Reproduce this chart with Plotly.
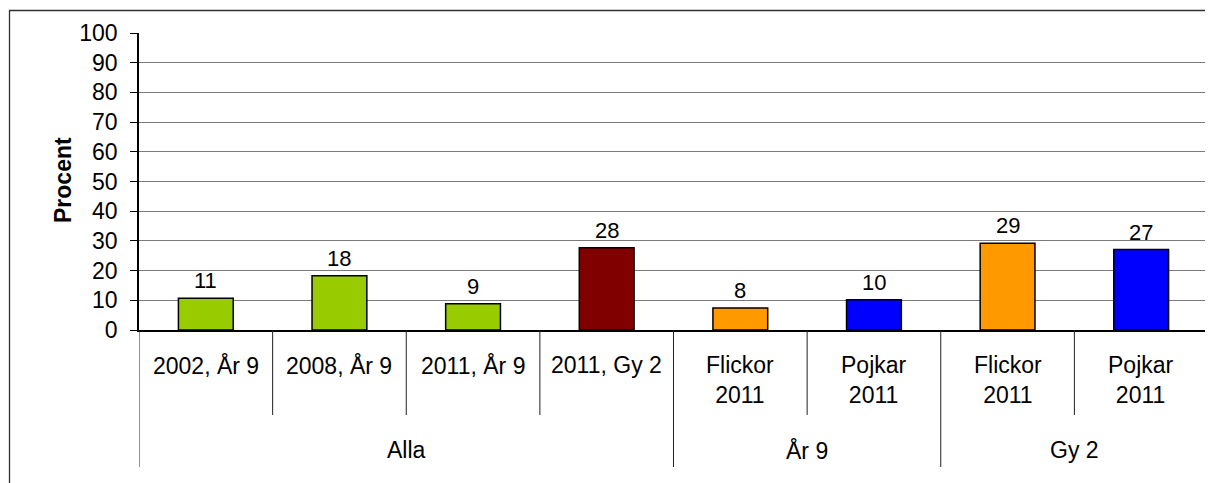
import plotly.graph_objects as go

# ---- data ----
groups = ["Alla", "Alla", "Alla", "Alla", "År 9", "År 9", "Gy 2", "Gy 2"]
categories = ["2002, År 9", "2008, År 9", "2011, År 9", "2011, Gy 2",
              "Flickor<br>2011", "Pojkar<br>2011", "Flickor<br>2011", "Pojkar<br>2011"]
values = [10.7, 18.3, 8.8, 27.7, 7.4, 10.2, 29.2, 27.1]
labels = ["11", "18", "9", "28", "8", "10", "29", "27"]
colors = ["#99CC00", "#99CC00", "#99CC00", "#800000",
          "#FF9900", "#0000FF", "#FF9900", "#0000FF"]
y_ticks = [0, 10, 20, 30, 40, 50, 60, 70, 80, 90, 100]

FONT = "Arial, Liberation Sans, sans-serif"
OFF = 8  # default body margin of the html page (shifts figure right/down)
PAGE_W, PAGE_H = 1213, 483
W, H = PAGE_W - OFF, PAGE_H - OFF
L, R, T, B = 139 - OFF, 5, 33 - OFF, 153
plot_h = H - T - B
plot_w = W - L - R
PLOT_BOTTOM = PAGE_H - B  # page pixel of y=0
PLOT_LEFT = L + OFF


def py(px):
    """page pixel y (from top) -> paper y"""
    return (PLOT_BOTTOM - px) / plot_h


def pxx(px):
    return (px - PLOT_LEFT) / plot_w


xs = list(range(len(categories)))

fig = go.Figure()
fig.add_trace(go.Bar(
    x=xs, y=values, width=0.41,
    marker=dict(color=colors, line=dict(color="black", width=1.5)),
    hoverinfo="skip", showlegend=False,
))

shapes = []
bounds_group = [-0.5]
for i in range(1, len(groups)):
    b = i - 0.5
    if groups[i] != groups[i - 1]:
        bounds_group.append(b)
    else:
        shapes.append(dict(type="line", xref="x", yref="paper", x0=b, x1=b,
                           y0=0, y1=py(415), line=dict(color="#202020", width=1)))
bounds_group.append(len(groups) - 0.5)
for b in bounds_group:
    shapes.append(dict(type="line", xref="x", yref="paper", x0=b, x1=b,
                       y0=0, y1=py(467), line=dict(color="#202020", width=1)))
shapes.append(dict(type="line", xref="x", yref="paper", x0=len(groups) - 0.5,
                   x1=len(groups) - 0.5, y0=0, y1=1,
                   line=dict(color="#8c8c8c", width=1.5)))
shapes.append(dict(type="path", xref="paper", yref="paper",
                   path=f"M {pxx(9.5)},{py(500)} L {pxx(9.5)},{py(10.5)} L {pxx(1230)},{py(10.5)}",
                   line=dict(color="#303030", width=1.3)))

annotations = []
# data labels above bars
for i, (v, t) in enumerate(zip(values, labels)):
    annotations.append(dict(x=i, y=v, xref="x", yref="y", text=t,
                            showarrow=False, yanchor="bottom", yshift=3,
                            font=dict(family=FONT, size=22, color="black")))
for i, c in enumerate(categories):
    annotations.append(dict(x=i, y=0, xref="x", yref="paper", text=c,
                            showarrow=False, yanchor="top", yshift=-20,
                            font=dict(family=FONT, size=23, color="black")))
start = 0
for i in range(1, len(groups) + 1):
    if i == len(groups) or groups[i] != groups[start]:
        annotations.append(dict(x=(start + i - 1) / 2, y=0, xref="x", yref="paper",
                                text=groups[start], showarrow=False,
                                yanchor="middle", yshift=-(450 - PLOT_BOTTOM),
                                font=dict(family=FONT, size=23, color="black")))
        start = i
annotations.append(dict(x=pxx(48), y=py(180), xref="paper", yref="paper",
                        text="<b>Procent</b>", textangle=-90, showarrow=False,
                        font=dict(family=FONT, size=23, color="black")))

fig.update_layout(
    width=W, height=H,
    margin=dict(l=L, r=R, t=T, b=B),
    paper_bgcolor="white", plot_bgcolor="white",
    shapes=shapes, annotations=annotations,
    xaxis=dict(range=[-0.5, len(groups) - 0.5], showticklabels=False,
               showgrid=False, zeroline=False, showline=True,
               linecolor="black", linewidth=1.5, ticks="", fixedrange=True),
    yaxis=dict(range=[0, 100], tickvals=y_ticks, showgrid=True,
               gridcolor="#7a7a7a", gridwidth=1, zeroline=False,
               showline=True, linecolor="black", linewidth=1.5,
               ticks="outside", ticklen=7, tickcolor="black",
               ticklabelstandoff=8, automargin=False,
               tickfont=dict(family=FONT, size=23, color="black")),
    font=dict(family=FONT),
)

fig.write_html("out.html")
